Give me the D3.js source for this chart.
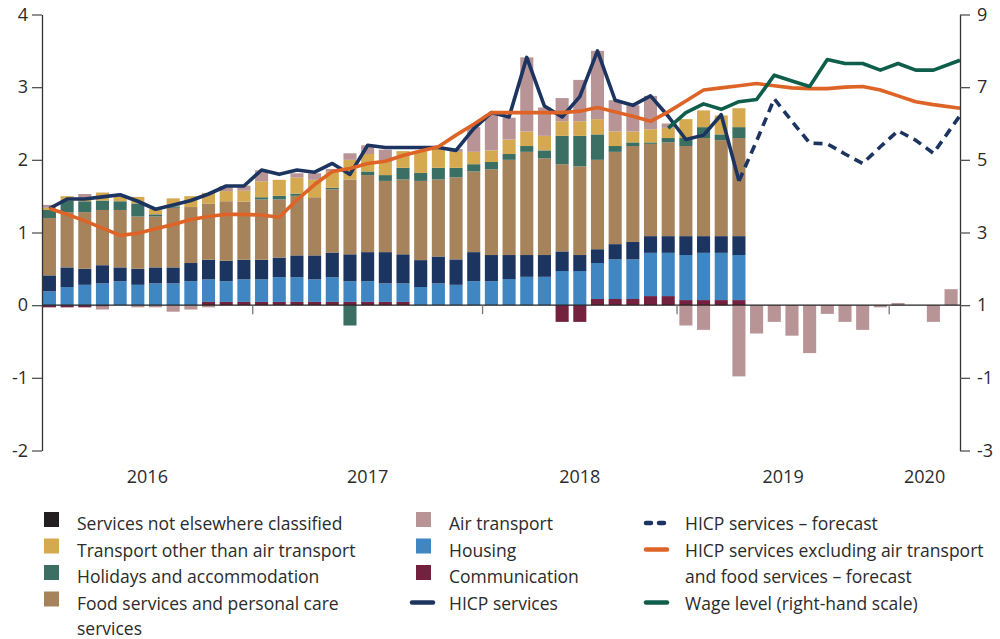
<!DOCTYPE html>
<html>
<head>
<meta charset="utf-8">
<script src="https://cdn.jsdelivr.net/npm/d3@7"></script>
<style>
body { margin: 0; background: #fff; }
text { font-family: "Open Sans", Lato, sans-serif; fill: #2b2b2b; }
</style>
</head>
<body>
<script>
// monthly categories, Jan 2016 - Apr 2020
var months = d3.timeMonths(new Date(2016, 0, 1), new Date(2020, 4, 1)).map(d3.timeFormat("%Y-%m"));

// year boundaries (category index where the tick sits) and labels
var yearTicks = [12, 25, 36, 48];
var yearLabels = ["2016", "2017", "2018", "2019", "2020"];

var leftTicks = [-2, -1, 0, 1, 2, 3, 4];
var rightTicks = [-3, -1, 1, 3, 5, 7, 9];

// contributions, percentage points (outcome Jan 2016 - Apr 2019)
var communication = [-0.03,-0.03,-0.03,-0.02,0,0,0,0,0,0.045, 0.045,0.045,0.045,0.045,0.045,0.045,0.045,0.045,0.045,0.045,
  0.045,0,0,0,0,0,0,0,0,-0.23, -0.23,0.085,0.085,0.085,0.125,0.125,0.07,0.07,0.07,0.07];
var housing = [0.19,0.25,0.28,0.30,0.33,0.28,0.30,0.30,0.33,0.31, 0.285,0.31,0.31,0.34,0.34,0.31,0.34,0.285,0.285,0.255,
  0.255,0.25,0.30,0.28,0.33,0.33,0.36,0.39,0.39,0.47, 0.47,0.495,0.545,0.545,0.595,0.595,0.62,0.65,0.65,0.62];
var servicesNec = [0.22,0.27,0.22,0.25,0.19,0.22,0.22,0.22,0.25,0.27, 0.28,0.27,0.27,0.27,0.30,0.33,0.34,0.37,0.40,0.43,
  0.40,0.37,0.37,0.35,0.40,0.36,0.33,0.30,0.30,0.27, 0.22,0.19,0.21,0.24,0.23,0.23,0.26,0.23,0.23,0.26];
var foodServices = [0.79,0.76,0.78,0.76,0.79,0.72,0.70,0.82,0.77,0.77, 0.82,0.80,0.83,0.80,0.82,0.80,0.87,1.03,1.06,0.98,
  1.03,1.09,1.06,1.13,1.11,1.18,1.31,1.42,1.33,1.20, 1.22,1.23,1.27,1.32,1.27,1.29,1.24,1.35,1.32,1.35];
var holidays = [0.11,0.16,0.15,0.13,0.12,0.18,0.03,0.02,0,0, 0,0,0.03,0.05,0.03,0,0.02,-0.28,0.05,0.08,
  0.16,0.11,0.16,0.13,0.10,0.10,0.08,0.08,0.11,0.39, 0.42,0.35,0.08,0.05,0.02,0.06,0.11,0.15,0.08,0.15];
var transportOther = [0.03,0.06,0.02,0.11,0.07,0.09,0.07,0.11,0.15,0.15, 0.14,0.15,0.22,0.22,0.22,0.24,0.22,0.27,0.24,0.18,
  0.23,0.30,0.26,0.22,0.17,0.16,0.20,0.20,0.20,0.20, 0.20,0.21,0.20,0.15,0.18,0.14,0.26,0.23,0.26,0.26];
// air transport runs on through the forecast
var airTransport = [0.04,0,0.08,-0.04,0,-0.03,-0.03,-0.09,-0.06,-0.03, 0.07,0.07,0.15,0,0.06,0.09,0.04,0.09,0.12,0.17,
  0,0,0,0.04,0.34,0.50,0.30,1.02,0.39,0.32, 0.57,0.94,0.43,0.36,0.46,0.06,-0.28,-0.34,0,-0.98,
  -0.39,-0.23,-0.42,-0.66,-0.12,-0.23,-0.34,-0.03,0.03,0,-0.23,0.22];

// lines, per cent
var hicpServices = [1.33,1.46,1.46,1.49,1.52,1.43,1.32,1.38,1.44,1.53, 1.64,1.64,1.86,1.80,1.86,1.83,1.95,1.80,2.20,2.17,
  2.17,2.17,2.17,2.13,2.43,2.65,2.59,3.41,2.74,2.59, 2.87,3.50,2.82,2.75,2.88,2.60,2.28,2.34,2.62,1.71];
var hicpForecast = [null,null,null,null,null,null,null,null,null,null, null,null,null,null,null,null,null,null,null,null,
  null,null,null,null,null,null,null,null,null,null, null,null,null,null,null,null,null,null,null,1.71,
  2.26,2.84,2.53,2.23,2.22,2.08,1.95,2.18,2.40,2.27,2.09,2.61];
var hicpExclForecast = [1.33,1.25,1.16,1.06,0.96,0.99,1.05,1.11,1.18,1.22, 1.25,1.25,1.24,1.21,1.45,1.66,1.84,1.88,1.95,1.98,
  2.06,2.12,2.18,2.34,2.49,2.65,2.65,2.65,2.65,2.65, 2.67,2.72,2.66,2.60,2.53,2.66,2.81,2.96,2.99,3.02,
  3.05,3.02,2.99,2.98,2.98,3.00,3.01,2.96,2.88,2.80,2.76,2.71];
var wageLevel = [null,null,null,null,null,null,null,null,null,null, null,null,null,null,null,null,null,null,null,null,
  null,null,null,null,null,null,null,null,null,null, null,null,null,null,null,5.87,6.30,6.54,6.39,6.60,
  6.66,7.33,7.17,7.02,7.76,7.65,7.65,7.47,7.65,7.47,7.47,7.74];

var keys = ["communication", "housing", "servicesNec", "foodServices", "holidays", "transportOther", "airTransport"];
var seriesData = {communication: communication, housing: housing, servicesNec: servicesNec, foodServices: foodServices,
  holidays: holidays, transportOther: transportOther, airTransport: airTransport};
var colors = {communication: "#74213f", housing: "#3f86c2", servicesNec: "#1c3560", foodServices: "#a6835a",
  holidays: "#3b6f64", transportOther: "#d4a94f", airTransport: "#b99497"};

var width = 1000, height = 639;
var plotLeft = 42, plotRight = 960, plotTop = 14.5, plotBottom = 450.5;

var svg = d3.select("body").append("svg")
  .attr("width", width)
  .attr("height", height);

var x = d3.scaleBand()
  .domain(d3.range(months.length))
  .range([plotLeft, 958.5])
  .paddingInner(0.26)
  .paddingOuter(0.05);

var yL = d3.scaleLinear().domain([-2, 4]).range([plotBottom, plotTop]);
var yR = d3.scaleLinear().domain([-3, 9]).range([plotBottom, plotTop]);

var rows = months.map(function(m, i) {
  var r = {i: i};
  keys.forEach(function(k) { r[k] = seriesData[k][i] == null ? 0 : seriesData[k][i]; });
  return r;
});

var stacked = d3.stack().keys(keys).offset(d3.stackOffsetDiverging)(rows);

svg.append("g").selectAll("g")
  .data(stacked)
  .enter().append("g")
    .attr("fill", function(d) { return colors[d.key]; })
  .selectAll("rect")
  .data(function(d) { return d.filter(function(p) { return p[1] !== p[0]; }); })
  .enter().append("rect")
    .attr("x", function(d) { return x(d.data.i); })
    .attr("width", x.bandwidth())
    .attr("y", function(d) { return yL(Math.max(d[0], d[1])); })
    .attr("height", function(d) { return Math.abs(yL(d[0]) - yL(d[1])); });

// zero line
svg.append("line")
  .attr("x1", plotLeft).attr("x2", plotRight)
  .attr("y1", yL(0)).attr("y2", yL(0))
  .attr("stroke", "#222").attr("stroke-width", 1.2);

// year ticks sit in the gaps between bars
var gap = x.step() * x.paddingInner() / 2;
function bx(k) { return x(k) - gap; }

svg.append("g").selectAll("line")
  .data(yearTicks)
  .enter().append("line")
    .attr("x1", function(d) { return bx(d); })
    .attr("x2", function(d) { return bx(d); })
    .attr("y1", yL(0)).attr("y2", yL(0) + 9)
    .attr("stroke", "#777").attr("stroke-width", 1.3);

var bounds = [plotLeft].concat(yearTicks.map(bx)).concat([plotRight]);
svg.append("g").selectAll("text")
  .data(yearLabels)
  .enter().append("text")
    .attr("x", function(d, i) { return (bounds[i] + bounds[i + 1]) / 2; })
    .attr("y", 483)
    .attr("text-anchor", "middle")
    .style("font-size", "18px")
    .text(function(d) { return d; });

// lines
function lx(i) {
  return i === months.length - 1 ? plotRight : x(i) + x.bandwidth() / 2;
}
function makeLine(scale) {
  return d3.line()
    .defined(function(d) { return d != null; })
    .x(function(d, i) { return lx(i); })
    .y(function(d) { return scale(d); });
}

function pad(arr) {
  var out = arr.slice();
  while (out.length < months.length) out.push(null);
  return out;
}

svg.append("path")
  .attr("d", makeLine(yL)(pad(hicpServices)))
  .attr("fill", "none").attr("stroke", "#1c3560").attr("stroke-width", 3.6)
  .attr("stroke-linejoin", "round");

svg.append("path")
  .attr("d", makeLine(yL)(hicpForecast))
  .attr("fill", "none").attr("stroke", "#1c3560").attr("stroke-width", 3.6)
  .attr("stroke-dasharray", "9,6");

svg.append("path")
  .attr("d", makeLine(yL)(hicpExclForecast))
  .attr("fill", "none").attr("stroke", "#dd6426").attr("stroke-width", 3.6)
  .attr("stroke-linejoin", "round");

svg.append("path")
  .attr("d", makeLine(yR)(wageLevel))
  .attr("fill", "none").attr("stroke", "#0f5e4b").attr("stroke-width", 3.6)
  .attr("stroke-linejoin", "round");

// axes
var axL = svg.append("g")
  .attr("transform", "translate(" + plotLeft + ",0)")
  .call(d3.axisLeft(yL).tickValues(leftTicks).tickSize(10).tickPadding(4).tickSizeOuter(0)
    .tickFormat(function(d) { return String(d); }));
var axR = svg.append("g")
  .attr("transform", "translate(" + plotRight + ",0)")
  .call(d3.axisRight(yR).tickValues(rightTicks).tickSize(10).tickPadding(7).tickSizeOuter(0)
    .tickFormat(function(d) { return String(d); }));

[axL, axR].forEach(function(a) {
  a.select(".domain").attr("stroke", "#333").attr("stroke-width", 1.3);
  a.selectAll(".tick line").attr("stroke", "#555").attr("stroke-width", 1.3);
  a.selectAll(".tick text").style("font-size", "18px").style("font-family", "'Open Sans', Lato, sans-serif").attr("fill", "#2b2b2b");
});

// legend
var rowY = [530, 556.5, 583, 609.5, 635];
var legendItems = [
  {col: 0, row: 0, type: "box", color: "#231f20", text: ["Services not elsewhere classified"]},
  {col: 0, row: 1, type: "box", color: colors.transportOther, text: ["Transport other than air transport"]},
  {col: 0, row: 2, type: "box", color: colors.holidays, text: ["Holidays and accommodation"]},
  {col: 0, row: 3, type: "box", color: colors.foodServices, text: ["Food services and personal care", "services"]},
  {col: 1, row: 0, type: "box", color: colors.airTransport, text: ["Air transport"]},
  {col: 1, row: 1, type: "box", color: colors.housing, text: ["Housing"]},
  {col: 1, row: 2, type: "box", color: colors.communication, text: ["Communication"]},
  {col: 1, row: 3, type: "line", color: "#1c3560", text: ["HICP services"]},
  {col: 2, row: 0, type: "dash", color: "#1c3560", text: ["HICP services – forecast"]},
  {col: 2, row: 1, type: "line", color: "#dd6426", text: ["HICP services excluding air transport", "and food services – forecast"]},
  {col: 2, row: 3, type: "line", color: "#0f5e4b", text: ["Wage level (right-hand scale)"]}
];
var colX = [
  {box: 44, line: 36, text: 77},
  {box: 416, line: 410, text: 449},
  {box: 648, line: 644, text: 685}
];

var leg = svg.append("g");
legendItems.forEach(function(it) {
  var c = colX[it.col], by = rowY[it.row];
  if (it.type === "box") {
    leg.append("rect")
      .attr("x", c.box).attr("y", by - 18)
      .attr("width", 15).attr("height", 15)
      .attr("fill", it.color);
  } else {
    leg.append("line")
      .attr("x1", c.line + 2).attr("x2", c.line + 23)
      .attr("y1", by - 7).attr("y2", by - 7)
      .attr("stroke", it.color).attr("stroke-width", 4.5)
      .attr("stroke-linecap", "round")
      .attr("stroke-dasharray", it.type === "dash" ? "5,8" : null);
  }
  it.text.forEach(function(t, j) {
    leg.append("text")
      .attr("x", c.text).attr("y", rowY[it.row + j])
      .style("font-size", "17.5px")
      .text(t);
  });
});
</script>
</body>
</html>
